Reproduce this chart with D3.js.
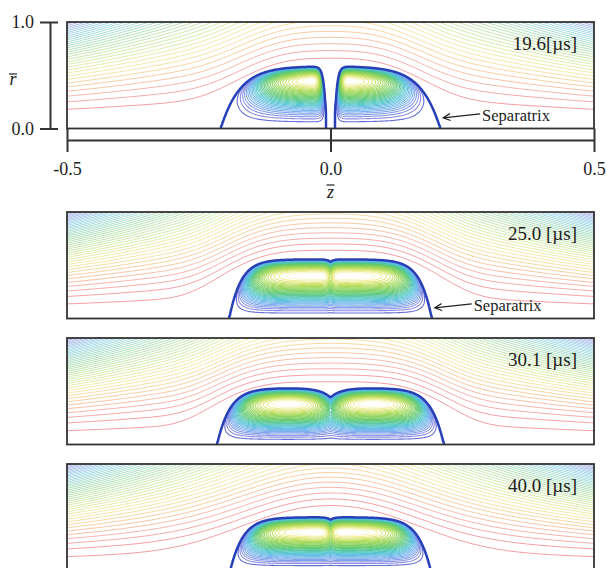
<!DOCTYPE html>
<html>
<head>
<meta charset="utf-8">
<script src="https://cdn.jsdelivr.net/npm/d3@7"></script>
<style>
  body { margin: 0; background: #fff; }
  svg { display: block; }
  text { font-family: "Liberation Serif", "Times New Roman", serif; fill: #1e1e1e; }
</style>
</head>
<body>
<script>
// ---- values (normalised z in [-0.5,0.5], r in [0,1]) ----
const timeLabels    = ["19.6[\u00b5s]", "25.0 [\u00b5s]", "30.1 [\u00b5s]", "40.0 [\u00b5s]"];
const sepOuterZ     = [0.208, 0.192, 0.215, 0.190];   // separatrix end on the axis
const sepInnerZ     = [0.008, -0.0155, -0.036, -0.018]; // inner edge of each lobe
const sepHeight     = [0.585, 0.555, 0.530, 0.500];   // separatrix top
const outerEdge     = [0.036, 0.022, 0.024, 0.024];   // roundness of outer side
const innerEdge     = [0.004, 0.005, 0.020, 0.006];   // roundness of inner side
const oPointExp     = [4.5, 2.5, 2.5, 2.5];           // sets O-point height
const wallFirstLine = [0.18, 0.137, 0.13, 0.13];      // lowest open field line at the end wall
const wallLineStep  = [0.030, 0.024, 0.024, 0.024];   // step of r^2 between open lines at the wall
const bulgeHeight   = [0.573, 0.590, 0.540, 0.562];
const bulgeWidth    = [0.224, 0.245, 0.257, 0.248];
const bulgePower    = [3.0, 3.6, 4.0, 2.1];
const mirrorRatio   = 3.3;
const innerLevelCount = 34;
const zTicks = [-0.5, 0.0, 0.5];
const rTicks = [0.0, 1.0];

// ---- layout ----
const W = 607, H = 568;
const panelTop = [22, 212, 338, 464];
const panelH = 106.5;
const pad = 3;

const svg = d3.select("body").append("svg").attr("width", W).attr("height", H);
const x = d3.scaleLinear().domain([-0.5, 0.5]).range([67, 594]);

const outerColor = d3.scaleLinear()
  .domain([0.18, 0.3, 0.4, 0.5, 0.6, 0.74, 0.88, 0.98])
  .range(["#ee6472", "#f08c80", "#f4b66e", "#efe07e", "#c4e27e", "#88d090", "#70c6e2", "#8a88dc"])
  .clamp(true);
const innerColor = d3.scaleLinear()
  .domain([0, 0.06, 0.2, 0.35, 0.55, 0.8, 0.93, 1])
  .range(["#2b3fc0", "#7f7fe0", "#6fb0ee", "#4cc4d0", "#5cc870", "#a8d850", "#eaea80", "#ffffff"])
  .clamp(true);

timeLabels.forEach(function (label, k) {
  const top = panelTop[k];
  const y = d3.scaleLinear().domain([0, 1]).range([top + panelH, top]);
  const x0 = x.range()[0] - pad, y0 = top - pad;
  const nx = Math.ceil(x.range()[1] - x.range()[0]) + 2 * pad + 1;
  const ny = Math.ceil(panelH) + 2 * pad + 1;
  const q = oPointExp[k], R = sepHeight[k];

  // lobe shape: >0 inside the separatrix, 0 on it
  function side(d, lam) { return d > 0 ? 1 - Math.exp(-d / lam) : d / lam; }
  function lobe(zz, r) {
    const po = side(sepOuterZ[k] - zz, outerEdge[k]);
    const pi = side(zz - sepInnerZ[k], innerEdge[k]);
    const p = (po > 0 && pi > 0) ? po * pi : Math.min(po, pi);
    return Math.sign(p) * Math.pow(Math.abs(p), q) - Math.pow(Math.abs(r) / R, q);
  }
  const shape = (z, r) => Math.max(lobe(z, r), lobe(-z, r));
  const b = z => 1 + (mirrorRatio - 1) * 4 * z * z;
  const h = z => bulgeHeight[k] * Math.exp(-Math.pow(Math.abs(z) / bulgeWidth[k], bulgePower[k]));

  const sepVals = new Float64Array(nx * ny);
  const inVals = new Float64Array(nx * ny);
  const outVals = new Float64Array(nx * ny);
  for (let j = 0; j < ny; j++) {
    const r = y.invert(y0 + j);
    for (let i = 0; i < nx; i++) {
      const z = x.invert(x0 + i);
      const s = shape(z, r);
      const idx = j * nx + i;
      sepVals[idx] = s;
      inVals[idx] = r * r * s;
      const hz = h(z);
      outVals[idx] = b(z) * (r * r - hz * hz);
    }
  }

  const contours = d3.contours().size([nx, ny]);
  const path = d3.geoPath(d3.geoTransform({
    point: function (cx, cy) { this.stream.point(x0 + cx - 0.5, y0 + cy - 0.5); }
  }));

  const clipId = "clip" + k;
  svg.append("clipPath").attr("id", clipId)
    .append("rect")
    .attr("x", x.range()[0]).attr("y", top)
    .attr("width", x.range()[1] - x.range()[0]).attr("height", panelH);

  const g = svg.append("g").attr("clip-path", "url(#" + clipId + ")");

  // open field lines outside the separatrix
  const wallR2 = d3.range(wallFirstLine[k] * wallFirstLine[k], 1.0, wallLineStep[k]);
  g.append("g").selectAll("path")
    .data(contours.thresholds(wallR2.map(v => v * mirrorRatio))(outVals))
    .join("path")
    .attr("d", path)
    .attr("fill", "none")
    .attr("stroke", d => outerColor(Math.sqrt(d.value / mirrorRatio)))
    .attr("stroke-width", 0.9)
    .attr("stroke-opacity", 0.7);

  // closed flux surfaces inside
  const psiMax = d3.max(inVals);
  const inLevels = d3.range(1, innerLevelCount).map(i => psiMax * i / innerLevelCount);
  g.append("g").selectAll("path")
    .data(contours.thresholds(inLevels)(inVals))
    .join("path")
    .attr("d", path)
    .attr("fill", "none")
    .attr("stroke", d => innerColor(d.value / psiMax))
    .attr("stroke-width", 1.1)
    .attr("stroke-opacity", 0.9);

  // separatrix
  g.append("path")
    .datum(contours.thresholds([0])(sepVals)[0])
    .attr("d", path)
    .attr("fill", "none")
    .attr("stroke", "#2740b8")
    .attr("stroke-width", 2.5);

  // frame
  svg.append("rect")
    .attr("x", x.range()[0]).attr("y", top)
    .attr("width", x.range()[1] - x.range()[0]).attr("height", panelH)
    .attr("fill", "none").attr("stroke", "#333").attr("stroke-width", 1.8);

  svg.append("text")
    .attr("x", 577).attr("y", top + 28)
    .attr("text-anchor", "end")
    .attr("font-size", 19)
    .text(label);

  // separatrix pointer on the first two panels
  if (k < 2) {
    const tip = [x(sepOuterZ[k]) + 3, y(0.1)];
    const tail = [tip[0] + 37, tip[1] - 4];
    const ang = Math.atan2(tail[1] - tip[1], tail[0] - tip[0]);
    const a1 = [tip[0] + 8 * Math.cos(ang + 0.45), tip[1] + 8 * Math.sin(ang + 0.45)];
    const a2 = [tip[0] + 8 * Math.cos(ang - 0.45), tip[1] + 8 * Math.sin(ang - 0.45)];
    svg.append("path")
      .attr("d", "M" + tail + "L" + tip + "M" + a1 + "L" + tip + "L" + a2)
      .attr("fill", "none").attr("stroke", "#222").attr("stroke-width", 1.2);
    svg.append("text")
      .attr("x", tail[0] + 2).attr("y", tail[1] + 7)
      .attr("font-size", 16.5)
      .text("Separatrix");
  }

  // axes only on the first panel
  if (k === 0) {
    const yAxis = d3.axisLeft(y).tickValues(rTicks)
      .tickFormat(d => d.toFixed(1)).tickSize(10).tickSizeOuter(0).tickPadding(6);
    const ga = svg.append("g").attr("transform", "translate(50,0)").call(yAxis);
    ga.selectAll(".tick line").attr("x1", 8);
    ga.selectAll("path, line").attr("stroke", "#333").attr("stroke-width", 2);
    ga.selectAll("text").attr("font-size", 18).attr("font-family", "Liberation Serif");

    const xAxis = d3.axisBottom(x).tickValues(zTicks)
      .tickFormat(d => d.toFixed(1)).tickSize(12).tickSizeOuter(0).tickPadding(10);
    const gx = svg.append("g").attr("transform", "translate(0," + (top + panelH + 11.5) + ")").call(xAxis);
    gx.selectAll(".tick line").attr("y1", -11.5);
    gx.selectAll("path, line").attr("stroke", "#333").attr("stroke-width", 2);
    gx.selectAll("text").attr("font-size", 18).attr("font-family", "Liberation Serif");

    svg.append("text").attr("x", 13).attr("y", 85)
      .attr("font-size", 18).attr("font-style", "italic").attr("text-anchor", "middle").text("r");
    svg.append("line").attr("x1", 9).attr("x2", 17).attr("y1", 74).attr("y2", 74)
      .attr("stroke", "#222").attr("stroke-width", 1.2);
    svg.append("text").attr("x", x(0)).attr("y", 198)
      .attr("font-size", 18).attr("font-style", "italic").attr("text-anchor", "middle").text("z");
    svg.append("line").attr("x1", x(0) - 4).attr("x2", x(0) + 4).attr("y1", 185).attr("y2", 185)
      .attr("stroke", "#222").attr("stroke-width", 1.2);
  }
});
</script>
</body>
</html>
